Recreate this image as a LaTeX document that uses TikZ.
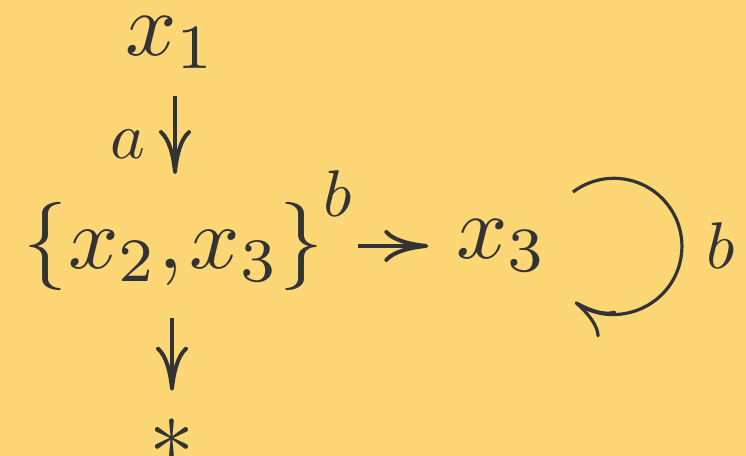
\documentclass[tikz,border=0pt]{standalone}
\usetikzlibrary{arrows.meta}
\definecolor{paper}{HTML}{FDD775}
\definecolor{ink}{HTML}{333333}

\begin{document}
\begin{tikzpicture}[x=0.5pt,y=-0.5pt,ink,
  state/.style={inner sep=0pt,anchor=base,scale=4.5},
  lab/.style={inner sep=0pt,anchor=base,scale=3.3},
  trans/.style={line width=2pt,-{To[length=22pt,width=16pt]}}]
  % Background
  \fill[paper] (0,0) rectangle (746,456);
  \useasboundingbox (0,0) rectangle (746,456);
  % States
  \node[state] (x1) at (171,55) {$x_1$};
  \node[state,scale=0.98] (set) at (174,268) {$\{x_2,\mkern-1.5mu x_3\}$};
  \node[state] (x3) at (502,258) {$x_3$};
  \node[state] (star) at (172,486) {*};
  % Transitions
  \draw[trans,shorten <=13pt,shorten >=13pt] ([xshift=2pt]x1.south) -- ([xshift=2pt]x1.south |- set.north);
  \node[lab] (la) at (128,158) {$a$};
  \draw[trans,shorten <=16pt,shorten >=13pt] (set.east) -- (set.east -| x3.west);
  \node[lab] (lb) at (338,216) {$b$};
  \draw[trans,shorten <=13pt,shorten >=13pt] ([xshift=-1pt]set.south) -- ([xshift=-1pt]set.south |- star.north);
  % Loop on x_3
  \coordinate (loopstart) at (573,192);
  \draw[line width=1.6pt,-{To[length=20pt,width=16pt]}] (loopstart) arc[start angle=127,end angle=-125,radius=34pt];
  \node[lab] (lloop) at (721,268) {$b$};
\end{tikzpicture}
\end{document}
